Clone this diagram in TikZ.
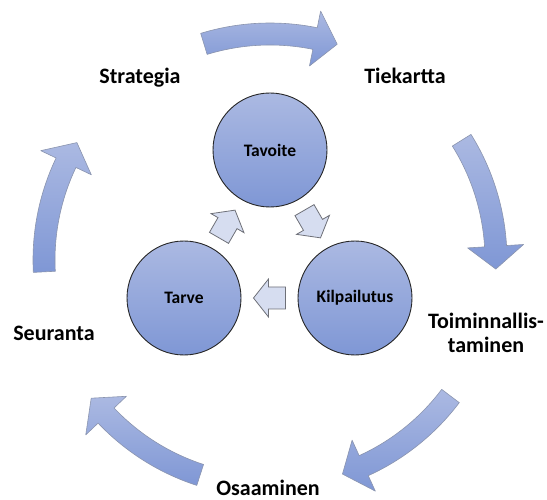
\documentclass[tikz,border=0pt]{standalone}
\usepackage{fontspec}
\setmainfont{Carlito}
\usetikzlibrary{calc}

\definecolor{shadeTop}{HTML}{ABB9E2}
\definecolor{shadeBot}{HTML}{7F97D5}
\definecolor{paleFill}{HTML}{D6DDF0}
\definecolor{bigEdge}{HTML}{8A94AE}
\definecolor{paleEdge}{HTML}{6E7078}

% curved block arrow on the outer ring; #1 = angle of its middle
\newcommand\ringarrow[1]{%
  \pgfmathsetmacro\arTail{#1+17}%
  \pgfmathsetmacro\arNeck{#1-11.5}%
  \pgfmathsetmacro\arTip{#1-17.3}%
  \path[bigarrow]
    (\arTail:237) arc[start angle=\arTail, end angle=\arNeck, radius=237]
    -- (\arNeck:254) -- (\arTip:226) -- (\arNeck:198)
    -- (\arNeck:215) arc[start angle=\arNeck, end angle=\arTail, radius=215]
    -- cycle;}

% straight block arrow, centred at the origin and pointing along +x
\newcommand\stubarrow{%
  (16,0) -- (1,19) -- (1,11) -- (-16,11) -- (-16,-11) -- (1,-11) -- (1,-19) -- cycle}

\begin{document}
\begin{tikzpicture}[x=1pt, y=1pt,
  stage/.style={circle, draw=black!85, line width=0.9pt, minimum size=114pt,
    inner sep=0pt, top color=shadeTop, bottom color=shadeBot,
    font=\fontsize{17.5}{20}\selectfont\bfseries},
  phase/.style={font=\fontsize{22}{24}\selectfont\bfseries, align=center,
    inner sep=0pt},
  bigarrow/.style={draw=bigEdge, line width=0.6pt, top color=shadeTop,
    bottom color=shadeBot, line join=round},
  smallarrow/.style={draw=paleEdge, line width=0.8pt, fill=paleFill,
    line join=miter}]

\useasboundingbox (0,0) rectangle (547,499);

% centre of the outer cycle
\coordinate (hub) at (270,239);

% outer cycle of curved arrows
\begin{scope}[shift={(hub)}]
  \ringarrow{90}
  \ringarrow{15}
  \ringarrow{-54}
  \ringarrow{-125}
  \ringarrow{166}
\end{scope}

% outer phase labels
\node[phase, anchor=base] (strategia) at (140,415) {Strategia};
\node[phase, anchor=base] (tiekartta) at (405,415) {Tiekartta};
\node[phase] (toiminnallistaminen) at (486,166) {Toiminnallis-\\taminen};
\node[phase, anchor=base] (osaaminen) at (268,4) {Osaaminen};
\node[phase, anchor=base] (seuranta) at (54,159) {Seuranta};

% inner cycle
\node[stage] (tavoite) at (270,349) {Tavoite};
\node[stage] (tarve) at (184,201) {Tarve};
\node[stage] (kilpailutus) at (355,201) {Kilpailutus};

\coordinate (up) at ($(tarve)!0.5!(tavoite)$);
\coordinate (down) at ($(tavoite)!0.5!(kilpailutus)$);
\coordinate (back) at ($(kilpailutus)!0.5!(tarve)$);

\path[smallarrow, shift={(up)}, rotate=60] \stubarrow;
\path[smallarrow, shift={(down)}, rotate=-60] \stubarrow;
\path[smallarrow, shift={(back)}, rotate=180] \stubarrow;

\end{tikzpicture}
\end{document}
